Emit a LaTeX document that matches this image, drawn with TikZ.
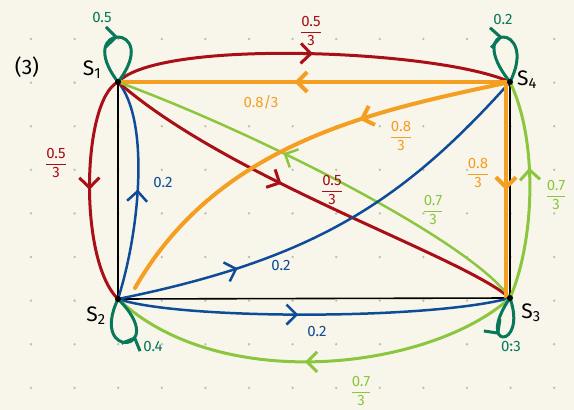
\documentclass[tikz,border=0pt]{standalone}
\usepackage{fontspec}
\setmainfont{Fira Sans}
\usetikzlibrary{arrows.meta,decorations.markings}

\definecolor{paper}{HTML}{F8F6EB}
\definecolor{dotgray}{HTML}{BDBCB4}
\definecolor{chainred}{HTML}{A90F16}
\definecolor{chainorange}{HTML}{F49E22}
\definecolor{chaingreen}{HTML}{8CC63F}
\definecolor{chainblue}{HTML}{0F4C98}
\definecolor{loopgreen}{HTML}{08775A}

\newcommand{\fr}[2]{$\displaystyle\frac{\mbox{#1}}{\mbox{#2}}$}

\begin{document}
\begin{tikzpicture}[x=1pt, y=-1pt,
    state/.style={circle, inner sep=0pt, minimum size=6pt},
    edge/.style={line width=#1, line cap=round, line join=round},
    frame/.style={line width=1.6pt, black},
    midarrow/.style={postaction={decorate, decoration={markings,
        mark=at position #1 with {\arrow{Straight Barb[length=10pt, width=20pt]}}}}},
    prob/.style={inner sep=0pt, font=\fontsize{15}{15}\selectfont},
    statename/.style={inner sep=0pt, font=\fontsize{21}{21}\selectfont}]
    \useasboundingbox (0,0) rectangle (574,410);
    \fill[paper] (0,0) rectangle (574,410);
    % Dotted paper
    \foreach \i in {0,...,12}
        \foreach \j in {0,...,8}
            \fill[dotgray] ({31+43.6*\i}, {39+43.6*\j}) circle (1.3);
    % States
    \node[state] (s1) at (118,82) {};
    \node[state] (s2) at (118,299) {};
    \node[state] (s3) at (510,298) {};
    \node[state] (s4) at (510,82) {};
    \draw[frame] (s1.center) -- (s4.center) -- (s3.center) -- (s2.center) -- cycle;
    % Top side
    \draw[edge=3pt, chainred, midarrow=0.5] (s1.center) .. controls (160,38) and (440,50) .. (s4.center);
    \draw[edge=4pt, chainorange, midarrow=0.55] (s4.center) -- (s1.center);
    % Left side
    \draw[edge=3pt, chainred, midarrow=0.5] (s1.center) .. controls (82,100) and (78,260) .. (s2.center);
    \draw[edge=2.5pt, chainblue, midarrow=0.5] (s2.center) .. controls (140,230) and (150,120) .. (s1.center);
    % Diagonals
    \draw[edge=3pt, chainred, midarrow=0.43] (s1.center) .. controls (230,180) and (460,255) .. (s3.center);
    \draw[edge=2.5pt, chaingreen, midarrow=0.6] (s3.center) .. controls (470,240) and (250,130) .. (s1.center);
    \draw[edge=4pt, chainorange, midarrow=0.35] (s4.center) .. controls (380,110) and (220,140) .. ([shift={(17,-11)}]s2.center);
    \draw[edge=2.5pt, chainblue, midarrow=0.27] (s2.center) .. controls (310,260) and (400,205) .. (s4.center);
    % Right side
    \draw[edge=4pt, chainorange, midarrow=0.5] ([xshift=-4pt]s4.center) -- ([xshift=-4pt]s3.center);
    \draw[edge=3pt, chaingreen, midarrow=0.6] (s3.center) .. controls (535,240) and (538,140) .. (s4.center);
    % Bottom side
    \draw[edge=2.5pt, chainblue, midarrow=0.46] (s2.center) .. controls (180,320) and (430,320) .. (s3.center);
    \draw[edge=3pt, chaingreen, midarrow=0.52] (s3.center) .. controls (430,370) and (220,395) .. (s2.center);
    % Self loops
    \draw[edge=3pt, loopgreen, midarrow=0.5] (s1.center) .. controls (72,22) and (164,22) .. (s1.center);
    \draw[edge=3pt, loopgreen, midarrow=0.5] (s4.center) .. controls (462,22) and (540,22) .. (s4.center);
    \draw[edge=3pt, loopgreen, midarrow=0.6] (s2.center) .. controls (88,362) and (172,352) .. (s2.center);
    \draw[edge=3pt, loopgreen, midarrow=0.45] (s3.center) .. controls (474,350) and (528,350) .. (s3.center);
    \foreach \s in {s1,s2,s3,s4}
        \fill (\s) circle (3);
    % Names
    \node[statename] (part) at (27,67) {(3)};
    \node[statename] (n1) at (92,70) {S\textsubscript{1}};
    \node[statename] (n2) at (96,316) {S\textsubscript{2}};
    \node[statename] (n3) at (531,313) {S\textsubscript{3}};
    \node[statename] (n4) at (527,80) {S\textsubscript{4}};
    % Probabilities
    \node[prob, chainred] (p14) at (311,31) {\fr{0.5}{3}};
    \node[prob, chainorange] (p41) at (261,102) {0.8/3};
    \node[prob, chainred] (p12) at (56,163) {\fr{0.5}{3}};
    \node[prob, chainblue] (p21) at (163,182) {0.2};
    \node[prob, chainred] (p13) at (332,190) {\fr{0.5}{3}};
    \node[prob, chaingreen] (p31) at (433,210) {\fr{0.7}{3}};
    \node[prob, chainorange] (p42) at (401,136) {\fr{0.8}{3}};
    \node[prob, chainblue] (p24) at (281,265) {0.2};
    \node[prob, chainorange] (p43) at (478,173) {\fr{0.8}{3}};
    \node[prob, chaingreen] (p34) at (556,195) {\fr{0.7}{3}};
    \node[prob, chainblue] (p23) at (317,331) {0.2};
    \node[prob, chaingreen] (p32) at (361,391) {\fr{0.7}{3}};
    \node[prob, loopgreen] (p11) at (102,17) {0.5};
    \node[prob, loopgreen] (p44) at (503,19) {0.2};
    \node[prob, loopgreen] (p22) at (153,346) {0.4};
    \node[prob, loopgreen] (p33) at (511,346) {0:3};
\end{tikzpicture}
\end{document}
